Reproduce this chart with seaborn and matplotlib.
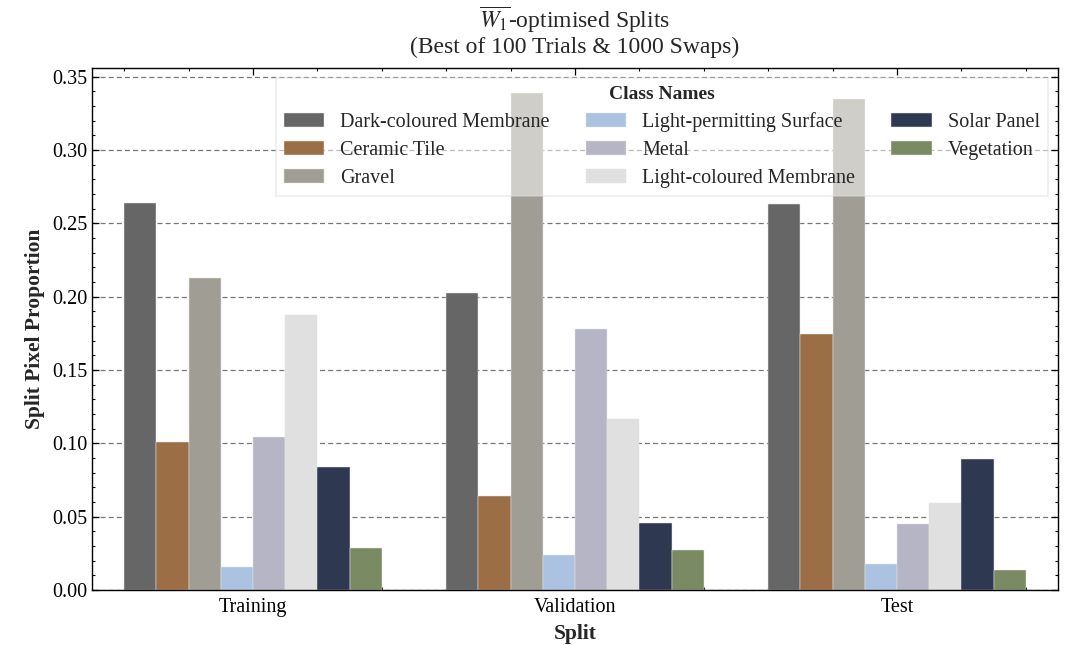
import matplotlib
matplotlib.use("Agg")
import matplotlib.pyplot as plt
from matplotlib.ticker import AutoMinorLocator, MultipleLocator
import seaborn as sns
import pandas as pd

splits = ["Training", "Validation", "Test"]
classes = ["Dark-coloured Membrane", "Ceramic Tile", "Gravel",
           "Light-permitting Surface", "Metal", "Light-coloured Membrane",
           "Solar Panel", "Vegetation"]
training = [0.264, 0.101, 0.213, 0.016, 0.104, 0.1875, 0.084, 0.0285]
validation = [0.2025, 0.064, 0.339, 0.024, 0.178, 0.1165, 0.046, 0.0275]
test = [0.263, 0.1745, 0.3345, 0.018, 0.045, 0.059, 0.089, 0.0135]
colours = ["#666666", "#9b6e46", "#a09d94", "#abc3e1", "#b5b5c5",
           "#e0e0e0", "#2e3850", "#7a8a62"]

rows = []
for s, vals in zip(splits, [training, validation, test]):
    for c, v in zip(classes, vals):
        rows.append({"Split": s, "Class": c, "Proportion": v})
df = pd.DataFrame(rows)

sns.set_theme(style="ticks")
plt.rcParams["font.family"] = ["Liberation Serif", "DejaVu Serif"]
plt.rcParams["mathtext.fontset"] = "stix"
plt.rcParams["font.size"] = 14

fig = plt.figure(figsize=(10.69, 6.45), dpi=100)
ax = fig.add_axes([0.086, 0.0853, 0.9037, 0.8093])

sns.barplot(data=df, x="Split", y="Proportion", hue="Class",
            hue_order=classes, order=splits, palette=colours,
            saturation=1, width=0.8, ax=ax, errorbar=None,
            edgecolor="#e4e4e4", linewidth=0.35)

ax.set_axisbelow(True)
ax.yaxis.grid(True, linestyle=(0, (4, 2.5)), color="#777777", linewidth=0.9)
ax.set_xlim(-0.5, 2.5)
ax.yaxis.set_major_locator(MultipleLocator(0.05))
ax.yaxis.set_minor_locator(AutoMinorLocator(5))
ax.xaxis.set_minor_locator(AutoMinorLocator(5))
ax.tick_params(which="both", direction="in", top=True, right=True,
               labelsize=14.5, colors="black")
ax.tick_params(which="major", length=5, width=0.9)
ax.tick_params(which="minor", length=2.5, width=0.8)
ax.tick_params(axis="x", which="major", pad=6)
for sp in ax.spines.values():
    sp.set_color("black")
    sp.set_linewidth(1.0)

ax.set_xlabel("Split", fontweight="bold", fontsize=15.5, labelpad=5)
ax.set_ylabel("Split Pixel Proportion", fontweight="bold", fontsize=15.5, labelpad=5)
ax.set_title("$\\overline{W_1}$-optimised Splits\n(Best of 100 Trials & 1000 Swaps)",
             fontsize=17, linespacing=1.12, pad=11)

handles, labels = ax.get_legend_handles_labels()
leg = ax.legend(handles, labels, title="Class Names", ncol=3,
                loc="upper right", fontsize=14.5, title_fontsize=14,
                frameon=True, fancybox=False, framealpha=0.5,
                edgecolor="#dddddd", borderaxespad=0.5,
                handlelength=2.0, handleheight=0.65, handletextpad=0.8,
                columnspacing=1.8, labelspacing=0.45)
leg.get_title().set_fontweight("bold")
leg.get_frame().set_linewidth(1.2)

fig.savefig("out.png", dpi=100)
